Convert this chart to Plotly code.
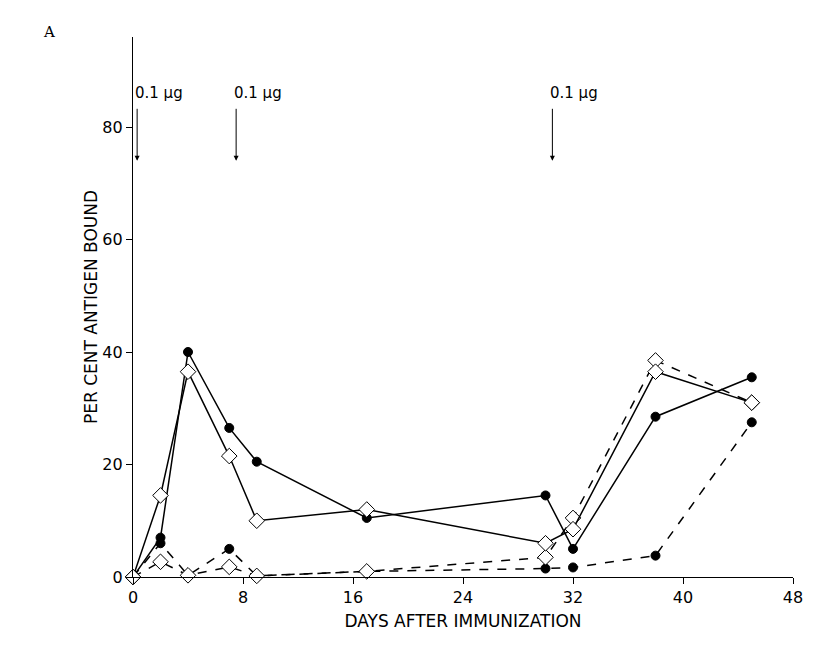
import plotly.graph_objects as go

days = [0, 2, 4, 7, 9, 17, 30, 32, 38, 45]
solid_circles = [0, 7, 40, 26.5, 20.5, 10.5, 14.5, 5, 28.5, 35.5]
solid_diamonds = [0, 14.5, 36.5, 21.5, 10, 12, 6, 8.5, 36.5, 31]
dashed_circles = [0, 6, 0.3, 5, 0.2, 1, 1.5, 1.7, 3.8, 27.5]
dashed_diamonds = [0, 2.7, 0.3, 1.8, 0.2, 1, 3.5, 10.5, 38.5, 31]
dose_days = [0.3, 7.5, 30.5]
dose_label = "0.1 μg"

fig = go.Figure()

def add(y, dash, symbol):
    fig.add_trace(go.Scatter(
        x=days, y=y, mode="lines+markers", cliponaxis=False,
        line=dict(color="black", width=1.5, dash=dash),
        marker=dict(symbol=symbol, size=9 if symbol == "circle" else 12,
                    color="black" if symbol == "circle" else "white",
                    line=dict(color="black", width=1)),
        showlegend=False))

add(dashed_circles, "dash", "circle")
add(dashed_diamonds, "dash", "diamond")
add(solid_circles, "solid", "circle")
add(solid_diamonds, "solid", "diamond")

for d in dose_days:
    fig.add_annotation(x=d, y=74, ax=d, ay=83.5, axref="x", ayref="y",
                       xref="x", yref="y", showarrow=True, arrowhead=2,
                       arrowsize=1, arrowwidth=1, arrowcolor="black", text="")
    fig.add_annotation(x=d - 0.3, y=86, xref="x", yref="y", text=dose_label,
                       showarrow=False, xanchor="left",
                       font=dict(size=15, color="black"))

fig.add_annotation(x=-0.14, y=1.03, xref="paper", yref="paper", text="A",
                   showarrow=False, font=dict(size=15, color="black",
                                              family="DejaVu Serif"))

axis = dict(showline=True, linecolor="black", linewidth=1.2, ticks="outside",
            tickcolor="black", ticklen=6, showgrid=False, zeroline=False,
            automargin=False, tickfont=dict(size=16, color="black"))
fig.update_xaxes(range=[0, 48], tickvals=[0, 8, 16, 24, 32, 40, 48],
                 title=dict(text="DAYS AFTER IMMUNIZATION", standoff=8,
                            font=dict(size=17, color="black")), **axis)
fig.update_yaxes(range=[0, 96], tickvals=[0, 20, 40, 60, 80],
                 title=dict(text="PER CENT ANTIGEN BOUND", standoff=0,
                            font=dict(size=17, color="black")), **axis)
fig.update_layout(width=815, height=650, plot_bgcolor="white",
                  paper_bgcolor="white",
                  margin=dict(l=125, r=30, t=29, b=81),
                  font=dict(family="DejaVu Sans", color="black"))
fig.write_html("out.html")
